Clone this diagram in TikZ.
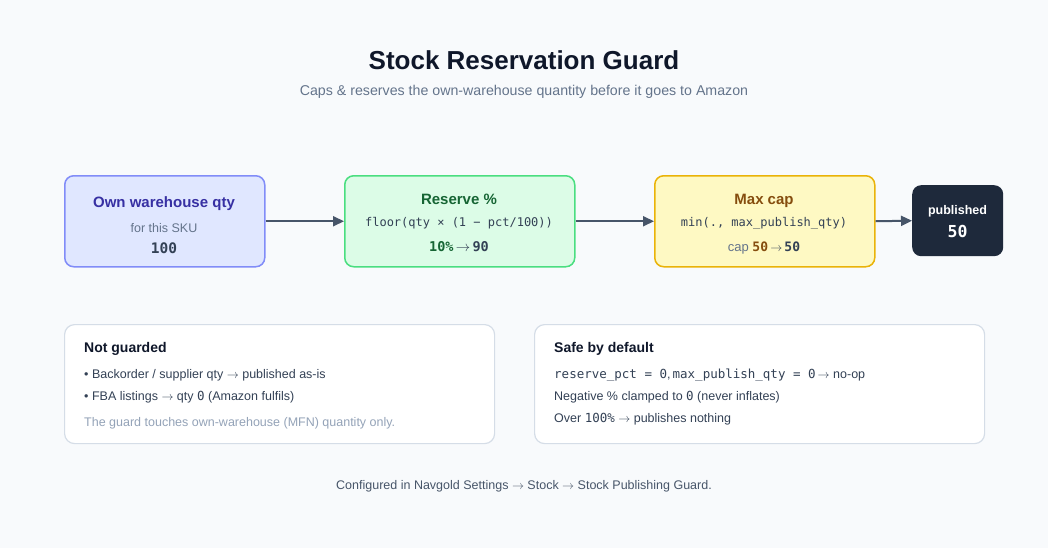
\documentclass[tikz,border=0pt]{standalone}
\usepackage{fontspec}
\setmainfont{Liberation Sans}
\setmonofont{DejaVu Sans Mono}
\usetikzlibrary{arrows.meta}
\definecolor{bg}{HTML}{F8FAFC}
\definecolor{ink}{HTML}{0F172A}
\definecolor{sub}{HTML}{64748B}
\definecolor{body}{HTML}{334155}
\definecolor{faint}{HTML}{94A3B8}
\definecolor{arrowc}{HTML}{475569}
\definecolor{indfill}{HTML}{E0E7FF}
\definecolor{inddraw}{HTML}{818CF8}
\definecolor{indtext}{HTML}{3730A3}
\definecolor{grfill}{HTML}{DCFCE7}
\definecolor{grdraw}{HTML}{4ADE80}
\definecolor{grtext}{HTML}{166534}
\definecolor{yefill}{HTML}{FEF9C3}
\definecolor{yedraw}{HTML}{EAB308}
\definecolor{yetext}{HTML}{854D0E}
\definecolor{darkbox}{HTML}{1E293B}
\definecolor{carddraw}{HTML}{D5DDE7}
\newcommand{\fs}[1]{\fontsize{#1}{#1}\selectfont}
\newcommand{\ra}{\ensuremath{\rightarrow}}
\tikzset{
  stage/.style={draw, line width=1.5pt, rounded corners=9pt, minimum width=200pt, minimum height=91pt, anchor=north west, inner sep=0pt},
  card/.style={draw=carddraw, fill=white, line width=1.2pt, rounded corners=10pt, anchor=north west, inner sep=0pt},
  flow/.style={draw=arrowc, line width=2pt, -{Triangle[length=11pt,width=10pt]}},
  txt/.style={anchor=base, inner sep=0pt},
  ltxt/.style={anchor=base west, inner sep=0pt},
}
\begin{document}
\begin{tikzpicture}[x=1pt,y=-1pt]
\fill[bg] (0,0) rectangle (1048,548);
\useasboundingbox (0,0) rectangle (1048,548);

% title
\node[txt, text=ink] (title) at (524,70) {\fs{26}\bfseries Stock Reservation Guard};
\node[txt, text=sub] (subtitle) at (524,96) {\fs{14.2}Caps \& reserves the own-warehouse quantity before it goes to Amazon};

% stages
\node[stage, fill=indfill, draw=inddraw, minimum width=200pt] (own) at (64,175) {};
\node[stage, fill=grfill, draw=grdraw, minimum width=230pt] (res) at (344,175) {};
\node[stage, fill=yefill, draw=yedraw, minimum width=220pt] (cap) at (654,175) {};
\node[draw=none, fill=darkbox, rounded corners=9pt, minimum width=91pt, minimum height=71pt, anchor=north west, inner sep=0pt] (pub) at (912,185) {};

\draw[flow] (own.east) -- (res.west);
\draw[flow] (res.east) -- (cap.west);
\draw[flow] (cap.east) -- (pub.west);

% stage texts
\node[txt, text=indtext] (ownt) at (164,207) {\fs{15}\bfseries Own warehouse qty};
\node[txt, text=sub] (owns) at (164,232) {\fs{12.5}for this SKU};
\node[txt, text=body] (ownv) at (164,253) {\fs{14.5}\ttfamily\bfseries 100};

\node[txt, text=grtext] (rest) at (459,204) {\fs{15}\bfseries Reserve \%};
\node[txt, text=body] (resf) at (459,226) {\fs{12}\ttfamily floor(qty × (1 − pct/100))};
\node[txt, text=body] (resv) at (459,251) {\fs{13.5}{\ttfamily\bfseries\color{grtext}10\%}\,\ra\,{\ttfamily\bfseries 90}};

\node[txt, text=yetext] (capt) at (764,204) {\fs{15}\bfseries Max cap};
\node[txt, text=body] (capf) at (764,226) {\fs{12}\ttfamily min(., max\_publish\_qty)};
\node[txt, text=sub] (capv) at (764,251) {\fs{13}cap {\ttfamily\bfseries\color{yetext}50}\,{\color{body}\ra}\,{\ttfamily\bfseries\color{body}50}};

\node[txt, text=white] (pubt) at (957.5,214) {\fs{12.5}\bfseries published};
\node[txt, text=white] (pubv) at (957.5,237) {\fs{16.5}\ttfamily\bfseries 50};

% cards
\node[card, minimum width=430pt, minimum height=119pt] (ng) at (64,324) {};
\node[card, minimum width=450pt, minimum height=119pt] (sd) at (534,324) {};

\node[ltxt, text=ink] (ngt) at (84,352) {\fs{14}\bfseries Not guarded};
\node[ltxt, text=body] (ng1) at (84,378) {\fs{12.5}• Backorder / supplier qty \ra{} published as-is};
\node[ltxt, text=body] (ng2) at (84,400) {\fs{12.5}• FBA listings \ra{} qty {\ttfamily 0} (Amazon fulfils)};
\node[ltxt, text=faint] (ng3) at (84,426) {\fs{12.5}The guard touches own-warehouse (MFN) quantity only.};

\node[ltxt, text=ink] (sdt) at (554,352) {\fs{14}\bfseries Safe by default};
\node[ltxt, text=body] (sd1) at (554,378) {\fs{12.5}{\ttfamily reserve\_pct = 0},\,{\ttfamily max\_publish\_qty = 0}\,\ra{} no-op};
\node[ltxt, text=body] (sd2) at (554,400) {\fs{12.5}Negative \% clamped to {\ttfamily 0} (never inflates)};
\node[ltxt, text=body] (sd3) at (554,422) {\fs{12.5}Over {\ttfamily 100\%} \ra{} publishes nothing};

% footer
\node[txt, text=arrowc] (foot) at (524,489) {\fs{12.5}Configured in Navgold Settings \ra{} Stock \ra{} Stock Publishing Guard.};
\end{tikzpicture}
\end{document}
